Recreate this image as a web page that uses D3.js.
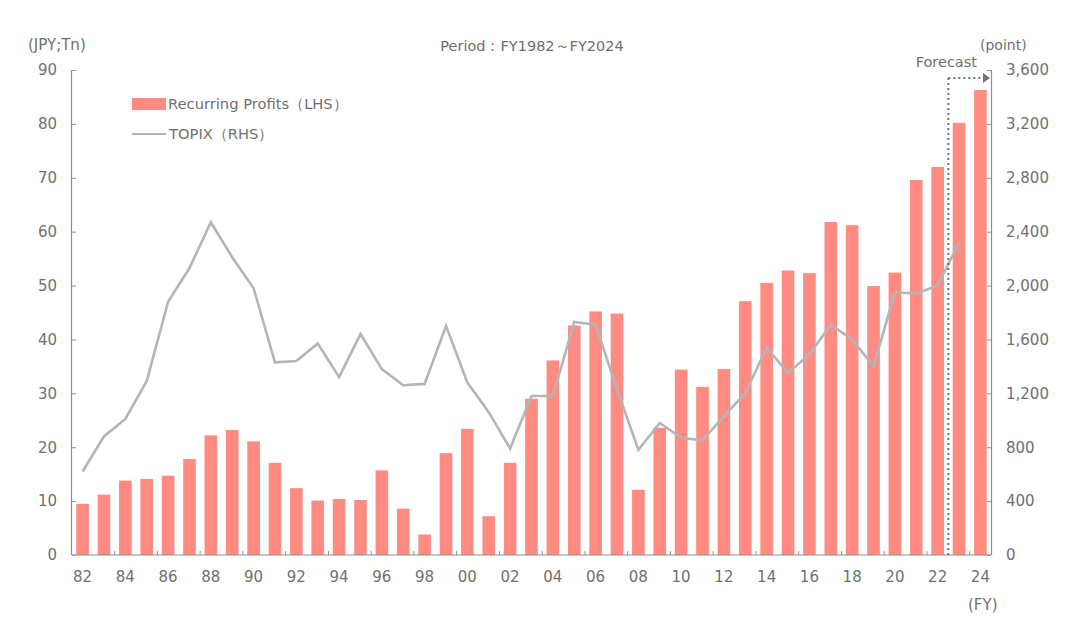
<!DOCTYPE html>
<html><head><meta charset="utf-8">
<script src="https://cdn.jsdelivr.net/npm/d3@7"></script>
<style>
html,body{margin:0;padding:0;background:#fff;}
svg text{font-family:"DejaVu Sans",Verdana,sans-serif;fill:#707070;}
</style></head>
<body><svg id="c" width="1080" height="638"></svg>
<script>
const years = d3.range(1982, 2025);
const profits = [9.5,11.2,13.8,14.1,14.7,17.8,22.2,23.2,21.1,17.1,12.4,10.1,10.4,10.2,15.7,8.6,3.8,18.9,23.4,7.2,17.1,29.0,36.1,42.6,45.2,44.8,12.1,23.6,34.4,31.2,34.5,47.1,50.5,52.8,52.3,61.8,61.2,49.9,52.4,69.6,72.0,80.2,86.3];
const topixYears = d3.range(1982, 2024);
const topix = [620,880,1010,1290,1880,2130,2470,2210,1980,1430,1440,1570,1320,1640,1380,1260,1270,1700,1280,1060,790,1180,1180,1730,1710,1230,780,980,870,850,1030,1200,1540,1350,1490,1710,1600,1400,1950,1940,2000,2320];
const leftTicks = [0,10,20,30,40,50,60,70,80,90];
const rightTicks = [0,400,800,1200,1600,2000,2400,2800,3200,3600];
const xLabelYears = years.filter(y => y % 2 === 0);

const svg = d3.select("#c");
const L = 72, R = 991, B = 555, T = 70;
const x = d3.scaleBand().domain(years).range([L, R]).paddingInner(0.41).paddingOuter(0.2);
const yL = d3.scaleLinear().domain([0, 90]).range([B, T]);
const yR = d3.scaleLinear().domain([0, 3600]).range([B, T]);
const axisColor = "#8a8f8f";

// bars
svg.append("g").selectAll("rect").data(years).join("rect")
  .attr("x", d => x(d)).attr("width", x.bandwidth())
  .attr("y", (d,i) => yL(profits[i])).attr("height", (d,i) => B - yL(profits[i]))
  .attr("fill", "#ff8b82");

// line
const line = d3.line().x((d,i) => x(topixYears[i]) + x.bandwidth()/2).y(d => yR(d));
svg.append("path").datum(topix).attr("d", line)
  .attr("fill", "none").attr("stroke", "#b3b6b6").attr("stroke-width", 2.6).attr("stroke-linejoin", "miter");

// left axis
const gl = svg.append("g").attr("transform", `translate(${L},0)`)
  .call(d3.axisLeft(yL).tickValues(leftTicks).tickSize(-4).tickPadding(15));
// right axis
const gr = svg.append("g").attr("transform", `translate(${R},0)`)
  .call(d3.axisRight(yR).tickValues(rightTicks).tickSize(-4).tickPadding(15).tickFormat(d3.format(",")));
// bottom axis (ticks at boundaries)
const step = x.step();
const boundaryYears = years.filter(y => y % 2 === 1 && y < 2024);
svg.append("g").selectAll("line.bt").data(boundaryYears).join("line")
  .attr("x1", d => x(d) + x.bandwidth() + (step - x.bandwidth())/2)
  .attr("x2", d => x(d) + x.bandwidth() + (step - x.bandwidth())/2)
  .attr("y1", B).attr("y2", B - 4).attr("stroke", axisColor);
svg.append("line").attr("x1", L).attr("x2", R).attr("y1", B).attr("y2", B).attr("stroke", axisColor).attr("stroke-width", 1.2);
svg.append("g").selectAll("text.xl").data(xLabelYears).join("text")
  .attr("x", d => x(d) + x.bandwidth()/2).attr("y", 582)
  .attr("text-anchor", "middle").attr("font-size", 15)
  .text(d => String(d % 100).padStart(2, "0"));

[gl, gr].forEach(g => {
  g.select(".domain").attr("stroke", axisColor).attr("stroke-width", 1.2);
  g.selectAll(".tick line").attr("stroke", axisColor);
  g.selectAll(".tick text").attr("font-size", 15).style("fill", "#707070")
    .attr("font-family", "DejaVu Sans, sans-serif");
});
gl.select(".domain").attr("d", `M-0.5,${B}V${T}`);
gr.select(".domain").attr("d", `M0.5,${B}V${T}`);

// axis titles
svg.append("text").attr("x", 28).attr("y", 50).attr("font-size", 15).text("(JPY;Tn)");
svg.append("text").attr("x", 980).attr("y", 50).attr("font-size", 14).text("(point)");
svg.append("text").attr("x", 968).attr("y", 610).attr("font-size", 15).text("(FY)");
svg.append("text").attr("x", 532).attr("y", 51).attr("text-anchor", "middle").attr("font-size", 14.5).text("Period：FY1982～FY2024");

// legend
svg.append("rect").attr("x", 132).attr("y", 98).attr("width", 34).attr("height", 12).attr("fill", "#ff8b82");
svg.append("text").attr("x", 168).attr("y", 109).attr("font-size", 14.7).text("Recurring Profits（LHS）");
svg.append("line").attr("x1", 132).attr("x2", 166).attr("y1", 134).attr("y2", 134).attr("stroke", "#b3b6b6").attr("stroke-width", 2);
svg.append("text").attr("x", 169).attr("y", 139).attr("font-size", 14.7).text("TOPIX（RHS）");

// forecast marker
const fx = x(2023) - (step - x.bandwidth())/2;
svg.append("line").attr("x1", fx).attr("x2", fx).attr("y1", 78).attr("y2", B)
  .attr("stroke", "#6f7474").attr("stroke-width", 2).attr("stroke-dasharray", "2,3");
svg.append("line").attr("x1", fx).attr("x2", R - 6).attr("y1", 78).attr("y2", 78)
  .attr("stroke", "#6f7474").attr("stroke-width", 2).attr("stroke-dasharray", "2,3");
svg.append("path").attr("d", `M${R-8},73L${R-1},78L${R-8},83Z`).attr("fill", "#6f7474");
svg.append("text").attr("x", 977).attr("y", 67).attr("text-anchor", "end").attr("font-size", 14.5).text("Forecast");
</script></body></html>
